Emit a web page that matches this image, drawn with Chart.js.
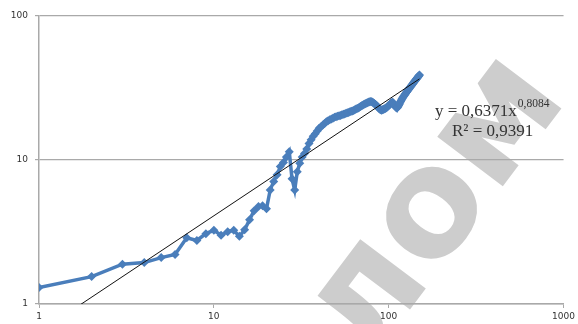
<!DOCTYPE html>
<html>
<head>
<meta charset="utf-8">
<script src="https://cdn.jsdelivr.net/npm/chart.js@4/dist/chart.umd.min.js"></script>
<style>
  html, body { margin: 0; padding: 0; background: #ffffff; }
  #wrap { width: 578px; height: 324px; position: relative; }
</style>
</head>
<body>
<div id="wrap"><canvas id="chart" width="578" height="324"></canvas></div>
<script>
// Observation index (log x axis)
const xValues = [
  1, 2, 3, 4, 5, 6, 7, 8, 9, 10,
  11, 12, 13, 14, 15, 16, 17, 18, 19, 20,
  21, 22, 23, 24, 25, 26, 27, 28, 29, 30,
  31, 32, 33, 34, 35, 36, 37, 38, 39, 40,
  41, 42, 43, 44, 45, 46, 47, 48, 49, 50,
  51, 52, 53, 54, 55, 56, 57, 58, 59, 60,
  61, 62, 63, 64, 65, 66, 67, 68, 69, 70,
  71, 72, 73, 74, 75, 76, 77, 78, 79, 80,
  81, 82, 83, 84, 85, 86, 87, 88, 89, 90,
  91, 92, 93, 94, 95, 96, 97, 98, 99, 100,
  101, 102, 103, 104, 105, 106, 107, 108, 109, 110,
  111, 112, 113, 114, 115, 116, 117, 118, 119, 120,
  121, 122, 123, 124, 125, 126, 127, 128, 129, 130,
  131, 132, 133, 134, 135, 136, 137, 138, 139, 140,
  141, 142, 143, 144, 145, 146, 147, 148, 149, 150
];

// Measured series (log y axis)
const yValues = [
  1.30, 1.55, 1.89, 1.94, 2.10, 2.21, 2.88, 2.76, 3.08, 3.25,
  3.00, 3.18, 3.25, 2.95, 3.28, 3.85, 4.45, 4.75, 4.82, 4.58,
  6.20, 7.10, 7.90, 9.00, 9.60, 10.5, 11.4, 7.40, 6.20, 8.30,
  9.50, 10.5, 11.1, 11.9, 13.0, 13.8, 14.6, 15.2, 15.9, 16.6,
  17.0, 17.5, 17.9, 18.4, 18.7, 19.0, 19.3, 19.5, 19.8, 20.0,
  20.1, 20.3, 20.4, 20.6, 20.8, 20.9, 21.1, 21.3, 21.4, 21.6,
  21.8, 21.9, 22.1, 22.3, 22.6, 22.8, 23.0, 23.2, 23.5, 23.8,
  24.0, 24.3, 24.5, 24.7, 24.9, 25.1, 25.3, 25.4, 25.5, 25.4,
  25.2, 24.9, 24.6, 24.3, 24.0, 23.6, 23.2, 22.8, 22.5, 22.3,
  22.2, 22.3, 22.4, 22.6, 22.7, 22.9, 23.1, 23.3, 23.6, 23.9,
  24.2, 24.5, 24.8, 25.0, 25.2, 25.0, 24.6, 24.1, 23.6, 23.2,
  23.0, 23.1, 23.4, 23.9, 24.4, 25.0, 25.5, 26.0, 26.5, 27.0,
  27.4, 27.8, 28.2, 28.6, 29.0, 29.4, 29.8, 30.2, 30.6, 31.0,
  31.3, 31.7, 32.1, 32.5, 32.9, 33.3, 33.7, 34.1, 34.5, 34.9,
  35.3, 35.7, 36.1, 36.5, 36.9, 37.3, 37.7, 38.1, 38.5, 38.9
];

// Axis tick labels
const xTicks = [1, 10, 100, 1000];
const yTicks = [1, 10, 100];

// Power trendline  y = a * x^b  and its fit quality
const trendA = 0.6371;
const trendB = 0.8084;
const trendR2 = 0.9391;

const seriesPoints = xValues.map((x, i) => ({ x: x, y: yValues[i] }));
const xFirst = xValues[0];
const xLast = xValues[xValues.length - 1];
const trendPoints = [
  { x: xFirst, y: trendA * Math.pow(xFirst, trendB) },
  { x: xLast,  y: trendA * Math.pow(xLast, trendB) }
];

const fmt = v => v.toFixed(4).replace('.', ',');

// Grey diagonal stamp behind the plot
const watermark = {
  id: 'watermark',
  beforeDraw(chart) {
    const ctx = chart.ctx;
    const word = 'диплом';
    const size = 150;
    ctx.save();
    ctx.font = 'bold ' + size + 'px "DejaVu Sans"';
    const before = ctx.measureText('дипл').width;
    const oWidth = ctx.measureText('о').width;
    ctx.translate(432, 213);
    ctx.rotate(-53 * Math.PI / 180);
    ctx.fillStyle = '#cdcdcd';
    ctx.textAlign = 'left';
    ctx.textBaseline = 'alphabetic';
    ctx.fillText(word, -(before + oWidth / 2), 0.27 * size);
    ctx.restore();
  }
};

const equationLabel = {
  id: 'equationLabel',
  afterDatasetsDraw(chart) {
    const ctx = chart.ctx;
    ctx.save();
    ctx.fillStyle = '#333333';
    ctx.textBaseline = 'alphabetic';
    ctx.textAlign = 'left';
    const main = 'y = ' + fmt(trendA) + 'x';
    ctx.font = '17px "Liberation Serif"';
    const x0 = 435;
    ctx.fillText(main, x0, 116);
    const w = ctx.measureText(main).width;
    ctx.font = '11.5px "Liberation Serif"';
    ctx.fillText(fmt(trendB), x0 + w + 1, 107);
    ctx.font = '17px "Liberation Serif"';
    ctx.fillText('R² = ' + fmt(trendR2), 452, 136);
    ctx.restore();
  }
};

const gridColor = '#a9a9a9';
const labelFont = { family: '"DejaVu Sans"', size: 9 };

new Chart(document.getElementById('chart'), {
  type: 'line',
  data: {
    datasets: [
      {
        label: 'trend',
        data: trendPoints,
        borderColor: '#111111',
        borderWidth: 1,
        pointRadius: 0,
        fill: false,
        tension: 0
      },
      {
        label: 'series',
        data: seriesPoints,
        borderColor: 'rgb(74,126,187)',
        backgroundColor: 'rgb(74,126,187)',
        borderWidth: 3.5,
        pointStyle: 'rectRot',
        pointRadius: 4.5,
        pointBorderWidth: 0,
        fill: false,
        tension: 0
      }
    ]
  },
  options: {
    responsive: false,
    animation: false,
    events: [],
    layout: { padding: { top: 16, right: 13, left: 0, bottom: 0 } },
    plugins: { legend: { display: false }, tooltip: { enabled: false } },
    scales: {
      x: {
        type: 'logarithmic',
        min: 1,
        max: 1000,
        afterBuildTicks: s => { s.ticks = xTicks.map(v => ({ value: v })); },
        afterFit: s => { s.height = 20; },
        ticks: {
          callback: v => String(v),
          font: labelFont,
          color: '#333333',
          maxRotation: 0,
          autoSkip: false,
          padding: 3
        },
        grid: { drawOnChartArea: false, drawTicks: true, tickLength: 4, color: gridColor },
        border: { color: gridColor, width: 1.5 }
      },
      y: {
        type: 'logarithmic',
        min: 1,
        max: 100,
        afterBuildTicks: s => { s.ticks = yTicks.map(v => ({ value: v })); },
        afterFit: s => { s.width = 39; },
        ticks: {
          callback: v => String(v),
          font: labelFont,
          color: '#333333',
          autoSkip: false,
          padding: 7
        },
        grid: { drawTicks: true, tickLength: 4, color: gridColor, lineWidth: 1.2 },
        border: { color: gridColor, width: 1.5 }
      }
    }
  },
  plugins: [watermark, equationLabel]
});
</script>
</body>
</html>
